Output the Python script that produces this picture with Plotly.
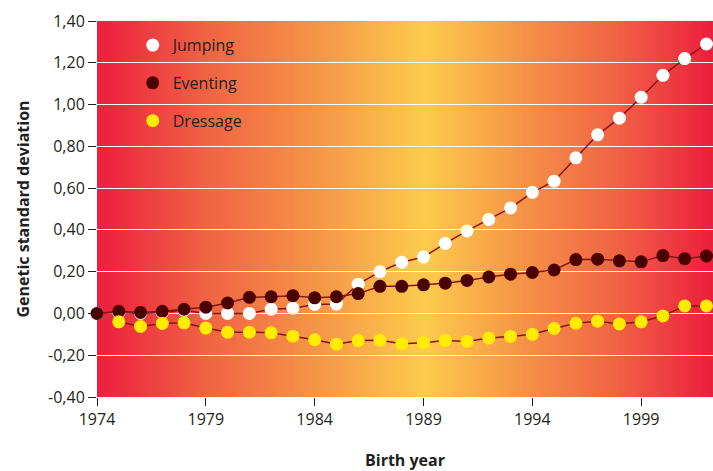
import plotly.graph_objects as go

years = list(range(1974, 2003))

jumping = [0.00, 0.005, 0.00, 0.005, 0.015, 0.00, 0.00, 0.00, 0.02, 0.025,
           0.043, 0.045, 0.14, 0.20, 0.245, 0.27, 0.335, 0.395, 0.45, 0.505,
           0.58, 0.633, 0.745, 0.855, 0.935, 1.035, 1.14, 1.22, 1.29]

eventing = [0.00, 0.01, 0.005, 0.01, 0.02, 0.03, 0.05, 0.077, 0.08, 0.085,
            0.075, 0.08, 0.095, 0.13, 0.13, 0.137, 0.145, 0.158, 0.175, 0.188,
            0.196, 0.208, 0.258, 0.26, 0.252, 0.247, 0.277, 0.262, 0.275]

dressage_years = list(range(1975, 2003))
dressage = [-0.04, -0.062, -0.048, -0.045, -0.07, -0.09, -0.09, -0.093, -0.109, -0.126,
            -0.147, -0.13, -0.128, -0.145, -0.14, -0.129, -0.134, -0.118, -0.11, -0.10,
            -0.072, -0.047, -0.037, -0.05, -0.04, -0.012, 0.036, 0.036]

y_tickvals = [-0.4, -0.2, 0.0, 0.2, 0.4, 0.6, 0.8, 1.0, 1.2, 1.4]
y_ticktext = ["-0,40", "-0,20", "0,00", "0,20", "0,40", "0,60", "0,80", "1,00", "1,20", "1,40"]
x_tickvals = [1974, 1979, 1984, 1989, 1994, 1999]
x_ticktext = ["1974", "1979", "1984", "1989", "1994", "1999"]

FONT = "Open Sans"
LINE_COLOR = "#8a1414"

series = [
    ("Jumping", years, jumping, "#ffffff"),
    ("Eventing", years, eventing, "#4a0000"),
    ("Dressage", dressage_years, dressage, "#ffec00"),
]

fig = go.Figure()
for i, (name, xs, ys, col) in enumerate(series):
    fig.add_trace(go.Scatter(x=xs, y=ys, mode="lines", line=dict(color=LINE_COLOR, width=1.5),
                             showlegend=False, hoverinfo="skip", cliponaxis=False))
    fig.add_trace(go.Scatter(x=xs, y=ys, mode="markers", name=name,
                             marker=dict(color=col, size=13, line=dict(width=0)),
                             legendgroup=name, cliponaxis=False))

# horizontal gradient background (red - orange - yellow - orange - red)
def lerp(a, b, t):
    return tuple(a[k] + (b[k] - a[k]) * t for k in range(3))

stops = [(0.0, (253, 204, 76)), (0.32, (246, 150, 72)), (0.66, (240, 100, 68)), (1.0, (236, 30, 62))]

def color_at(t):
    for (t0, c0), (t1, c1) in zip(stops[:-1], stops[1:]):
        if t <= t1:
            return lerp(c0, c1, (t - t0) / (t1 - t0))
    return stops[-1][1]

n = 160
center = 0.531
shapes = []
for k in range(n):
    f0 = k / n
    f1 = (k + 1) / n
    fm = (f0 + f1) / 2
    if fm < center:
        t = (center - fm) / center
    else:
        t = (fm - center) / (1 - center)
    c = color_at(min(max(t, 0), 1))
    shapes.append(dict(type="rect", xref="x domain", yref="y domain",
                       x0=f0, x1=min(f1 + 0.002, 1), y0=0, y1=1, layer="below",
                       line=dict(width=0),
                       fillcolor="rgb(%d,%d,%d)" % tuple(int(round(v)) for v in c)))

fig.update_layout(
    width=713, height=471,
    margin=dict(l=97, r=0, t=21, b=74, autoexpand=False),
    paper_bgcolor="white", plot_bgcolor="rgba(0,0,0,0)",
    font=dict(family=FONT, size=16, color="#231f20"),
    shapes=shapes,
    showlegend=True,
    legend=dict(x=0.058, y=0.981, xanchor="left", yanchor="top",
                bgcolor="rgba(0,0,0,0)", font=dict(size=16, color="#231f20"),
                tracegroupgap=14, itemwidth=30),
    xaxis=dict(range=[1974, 2002.3], tickvals=x_tickvals, ticktext=x_ticktext,
               showgrid=False, zeroline=False, showline=False, automargin=False,
               ticks="outside", ticklen=8, tickcolor="#231f20", tickwidth=1,
               tickfont=dict(size=16),
               title=dict(text="<b>Birth year</b>", font=dict(size=16), standoff=28)),
    yaxis=dict(range=[-0.4, 1.4], tickvals=y_tickvals, ticktext=y_ticktext,
               showgrid=True, gridcolor="white", gridwidth=1.2, zeroline=False, showline=False,
               automargin=False,
               ticks="outside", ticklen=8, tickcolor="#231f20", tickwidth=1,
               tickfont=dict(size=16),
               title=dict(text="<b>Genetic standard deviation</b>", font=dict(size=16), standoff=14)),
)

fig.write_html("out.html", config={"displayModeBar": False},
               post_script="document.body.style.margin='0';document.body.style.padding='0';")
